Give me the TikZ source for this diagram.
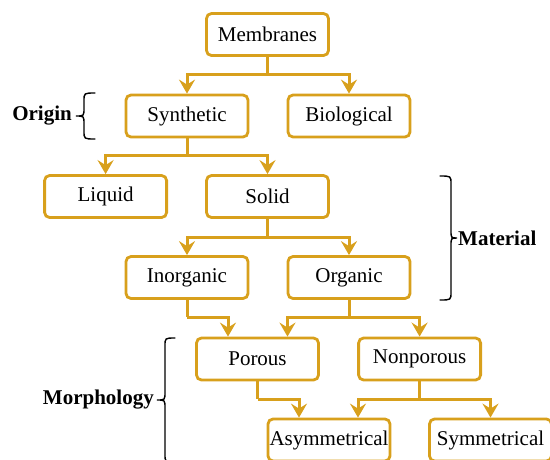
\documentclass[tikz,border=0pt]{standalone}
\usepackage{fontspec}
\setmainfont{Liberation Serif}
\usetikzlibrary{arrows.meta,calc}
\definecolor{gold}{RGB}{216,160,28}
\tikzset{
  box/.style={draw=gold, line width=2.8pt, rounded corners=5pt, fill=white,
    minimum width=122pt, minimum height=42pt, inner sep=0pt,
    font=\fontsize{21}{25}\selectfont},
  conn/.style={draw=gold, line width=3pt,
    -{Stealth[length=14pt,width=16pt,inset=5pt]}},
  plain/.style={draw=gold, line width=3pt},
  lbl/.style={font=\fontsize{21}{25}\selectfont\bfseries, inner sep=0pt},
  brc/.style={draw=black, line width=1.4pt, line cap=round}
}
\begin{document}
\begin{tikzpicture}[x=1pt,y=-1pt]
\useasboundingbox (0,0) rectangle (550,459);
% nodes
\node[box] (mem) at (267.5,34.5) {Membranes};
\node[box] (syn) at (187,116) {Synthetic};
\node[box] (bio) at (349,116) {Biological};
\node[box] (liq) at (105.6,196.5) {Liquid};
\node[box] (sol) at (267.5,196.5) {Solid};
\node[box] (inorg) at (187,277.5) {Inorganic};
\node[box] (org) at (349,277.5) {Organic};
\node[box] (por) at (257.5,359) {Porous};
\node[box] (nonpor) at (419.6,359) {Nonporous};
\node[box] (asym) at (329,440) {Asymmetrical};
\node[box] (sym) at (490.5,440) {Symmetrical};
% junctions
\coordinate (j1) at (267.5,74);
\coordinate (j2) at (187,155);
\coordinate (j3) at (267.5,237.3);
\coordinate (j4) at (187,317.3);
\coordinate (j5) at (349,317.3);
\coordinate (j6) at (257.5,399.3);
\coordinate (j7) at (419.6,399.3);
% connectors
\draw[plain] (mem.south) -- (j1);
\draw[conn] (j1) -| (syn.north);
\draw[conn] (j1) -| (bio.north);
\draw[plain] (syn.south) -- (j2);
\draw[conn] (j2) -| (liq.north);
\draw[conn] (j2) -| (sol.north);
\draw[plain] (sol.south) -- (j3);
\draw[conn] (j3) -| (inorg.north);
\draw[conn] (j3) -| (org.north);
\draw[plain] (inorg.south) -- (j4);
\draw[conn] (j4) -| ([xshift=-29.5pt]por.north);
\draw[plain] (org.south) -- (j5);
\draw[conn] (j5) -| ([xshift=30pt]por.north);
\draw[conn] (j5) -| (nonpor.north);
\draw[plain] (por.south) -- (j6);
\draw[conn] (j6) -| ([xshift=-30pt]asym.north);
\draw[plain] (nonpor.south) -- (j7);
\draw[conn] (j7) -| ([xshift=29pt]asym.north);
\draw[conn] (j7) -| (sym.north);
% braces and labels
% Origin brace: ends x=95, stem x=84, tip x=76, top 93, mid 116, bottom 139
\draw[brc] (95,93) .. controls (84,93) .. (84,101) -- (84,108)
  .. controls (84,116) .. (76,116) .. controls (84,116) .. (84,124)
  -- (84,131) .. controls (84,139) .. (95,139);
\node[lbl, anchor=east] (origin) at (72,116) {Origin};
% Material brace: ends x=440, stem x=451, tip x=457, top 176, mid 238, bottom 300
\draw[brc] (440,176) .. controls (451,176) .. (451,184) -- (451,230)
  .. controls (451,238) .. (457,238) .. controls (451,238) .. (451,246)
  -- (451,292) .. controls (451,300) .. (440,300);
\node[lbl, anchor=west] (material) at (458,238) {Material};
% Morphology brace: ends x=175, stem x=165, tip x=157, top 338, mid 400, bottom 462
\draw[brc] (175,338) .. controls (165,338) .. (165,346) -- (165,392)
  .. controls (165,400) .. (157,400) .. controls (165,400) .. (165,408)
  -- (165,454) .. controls (165,462) .. (175,462);
\node[lbl, anchor=east] (morph) at (154,400) {Morphology};
\end{tikzpicture}
\end{document}
